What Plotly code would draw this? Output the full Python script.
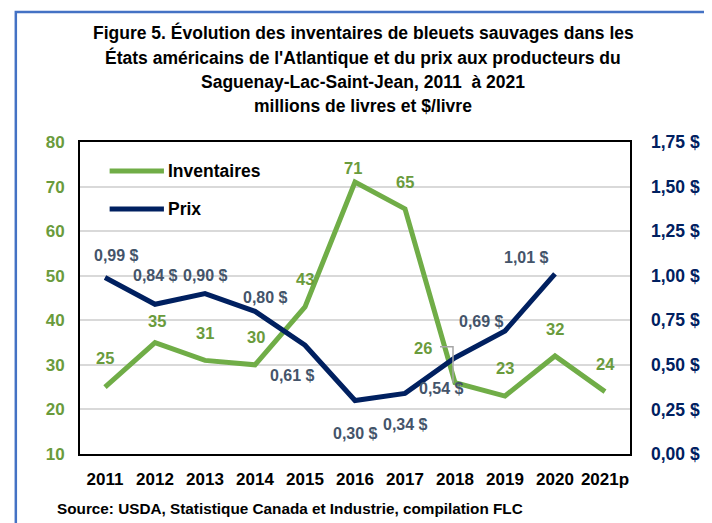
import plotly.graph_objects as go

# ---- data ----
years = ["2011", "2012", "2013", "2014", "2015", "2016", "2017", "2018", "2019", "2020", "2021p"]
inventaires = [25, 35, 31, 30, 43, 71, 65, 26, 23, 32, 24]
prix_years = ["2011", "2012", "2013", "2014", "2015", "2016", "2017", "2018", "2019", "2020"]
prix = [0.99, 0.84, 0.90, 0.80, 0.61, 0.30, 0.34, 0.54, 0.69, 1.01]

left_ticks = [10, 20, 30, 40, 50, 60, 70, 80]
right_ticks = [0.0, 0.25, 0.5, 0.75, 1.0, 1.25, 1.5, 1.75]
right_ticktext = ["0,00 $", "0,25 $", "0,50 $", "0,75 $", "1,00 $", "1,25 $", "1,50 $", "1,75 $"]

title_lines = [
    "Figure 5. Évolution des inventaires de bleuets sauvages dans les",
    "États américains de l'Atlantique et du prix aux producteurs du",
    "Saguenay-Lac-Saint-Jean, 2011  à 2021",
    "millions de livres et $/livre",
]
source_text = "Source: USDA, Statistique Canada et Industrie, compilation FLC"

# label offsets (pixels, style only)
inv_shift = [(0, 29), (2, 22), (0, 27), (1, 28), (0, 28), (-2, 14), (0, 27), (-32, 35), (0, 28), (0, 27), (0, 28)]
prix_shift = [(11, 22), (0, 29), (0, 18), (10, 14), (-13, -30), (0, -33), (0, -31), (-14, -31), (-24, 9), (-29, 16)]

GREEN = "#70AD47"
GREEN_TXT = "#6A9B3C"
NAVY = "#002060"
SLATE = "#44546A"
FONT = "Liberation Sans, Arial, sans-serif"

# page body has an 8px margin: build the figure so that plot area lands at page (80..637, 142..454)
OFF = 8
W, H = 712 - OFF, 523 - OFF
PL, PR, PT, PB = 80, 637, 142, 454
ML, MT = PL - OFF, PT - OFF
MR, MB = W - (PR - OFF), H - (PB - OFF)
PW, PH = PR - PL, PB - PT


def px_x(p):
    return (p - PL) / PW


def px_y(p):
    return (PB - p) / PH


fig = go.Figure()
fig.add_trace(go.Scatter(x=years, y=inventaires, mode="lines", name="Inventaires",
                         line=dict(color=GREEN, width=5), yaxis="y", showlegend=False))
fig.add_trace(go.Scatter(x=prix_years, y=prix, mode="lines", name="Prix",
                         line=dict(color=NAVY, width=5), yaxis="y2", showlegend=False))

ann = []
for i, (v, (dx, dy)) in enumerate(zip(inventaires, inv_shift)):
    ann.append(dict(x=i, y=v, xref="x", yref="y", text=f"<b>{v}</b>", showarrow=False,
                    xshift=dx, yshift=dy, font=dict(family=FONT, size=16.5, color=GREEN_TXT)))
for i, (v, (dx, dy)) in enumerate(zip(prix, prix_shift)):
    t = f"{v:.2f}".replace(".", ",") + " $"
    ann.append(dict(x=i, y=v, xref="x", yref="y2", text=f"<b>{t}</b>", showarrow=False,
                    xshift=dx, yshift=dy, font=dict(family=FONT, size=16, color=SLATE)))

# title, one annotation per line
for k, line in enumerate(title_lines):
    ann.append(dict(x=px_x(367), y=px_y(33 + 24.4 * k), xref="paper", yref="paper",
                    xanchor="center", yanchor="middle", text=f"<b>{line}</b>", showarrow=False,
                    font=dict(family=FONT, size=17.5, color="black")))
# source
ann.append(dict(x=px_x(55), y=px_y(508), xref="paper", yref="paper", xanchor="left", yanchor="middle",
                text=f"<b>{source_text}</b>", showarrow=False,
                font=dict(family=FONT, size=15.3, color="black")))

# custom legend
shapes = []
for i, (name, col) in enumerate([("Inventaires", GREEN), ("Prix", NAVY)]):
    yy = px_y(171 + 38 * i)
    shapes.append(dict(type="line", xref="paper", yref="paper", x0=px_x(110), x1=px_x(165), y0=yy, y1=yy,
                       line=dict(color=col, width=5)))
    ann.append(dict(x=px_x(167), y=yy, xref="paper", yref="paper", xanchor="left", yanchor="middle",
                    text=f"<b>{name}</b>", showarrow=False, font=dict(family=FONT, size=17.5, color="black")))

# leader line for the 2018 inventaires label
shapes.append(dict(type="path", xref="x", yref="y", xsizemode="pixel", ysizemode="pixel",
                   xanchor=7, yanchor=inventaires[7], path="M-15,36 H-2 V0",
                   line=dict(color="#A6A6A6", width=1.5)))

# outer frame
shapes.append(dict(type="rect", xref="paper", yref="paper", x0=px_x(15), x1=px_x(730), y0=px_y(540), y1=px_y(12),
                   line=dict(color="#4472C4", width=2.5), layer="below"))

fig.update_layout(
    width=W, height=H,
    margin=dict(l=ML, r=MR, t=MT, b=MB),
    paper_bgcolor="white", plot_bgcolor="white",
    showlegend=False,
    annotations=ann, shapes=shapes,
    xaxis=dict(type="category", range=[-0.5, 10.5], showgrid=False, showline=True, mirror=True,
               linecolor="black", linewidth=2, ticks="", ticklabelstandoff=9, tickangle=0,
               tickfont=dict(family=FONT, size=17, color="black", weight="bold")),
    yaxis=dict(range=[10, 80], tickvals=left_ticks, showgrid=True, gridcolor="#D9D9D9", gridwidth=1.5,
               showline=True, mirror=True, linecolor="black", linewidth=2, zeroline=False, ticks="",
               ticklabelstandoff=10, tickfont=dict(family=FONT, size=17, color=GREEN_TXT, weight="bold")),
    yaxis2=dict(range=[0, 1.75], overlaying="y", side="right", tickvals=right_ticks, ticktext=right_ticktext,
                showgrid=False, zeroline=False, showline=False, ticks="", ticklabelstandoff=20,
                tickfont=dict(family=FONT, size=17.5, color=NAVY, weight="bold")),
)

fig.write_html("out.html")
